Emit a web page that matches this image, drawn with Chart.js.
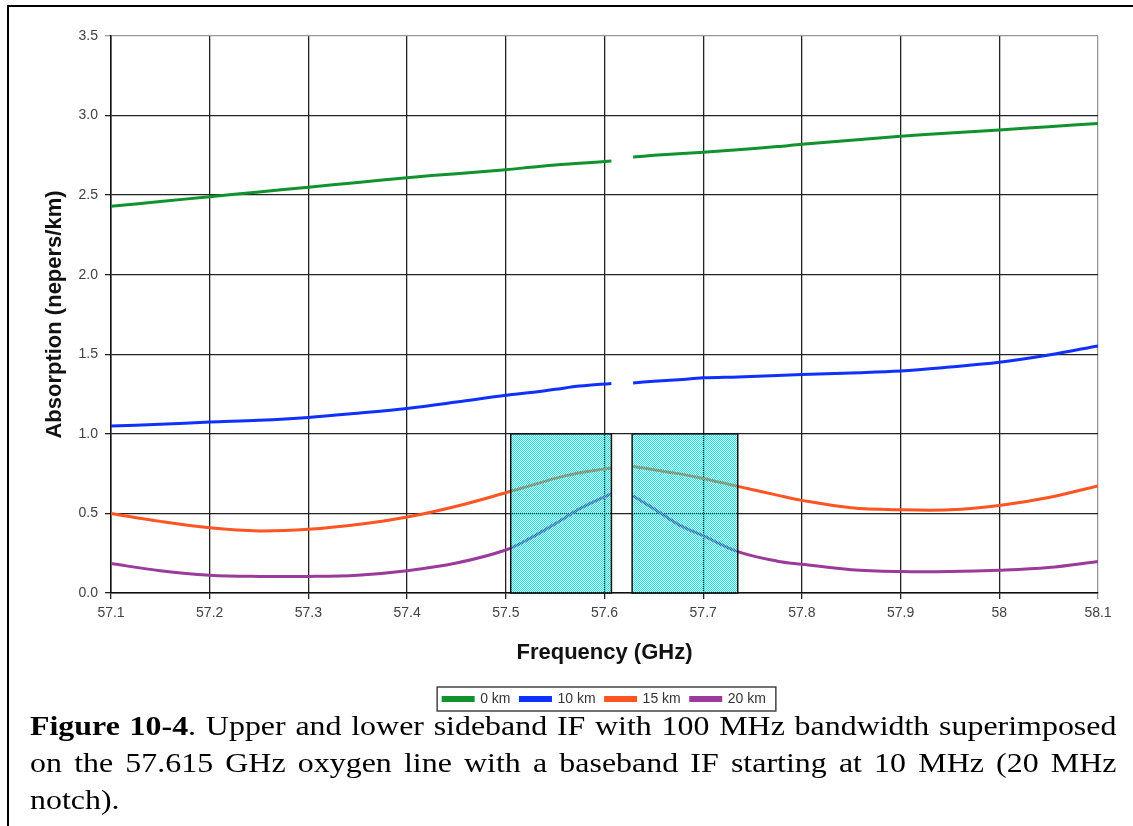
<!DOCTYPE html>
<html>
<head>
<meta charset="utf-8">
<script src="https://cdn.jsdelivr.net/npm/chart.js@4"></script>
<style>
  html, body { margin: 0; padding: 0; background: #fff; overflow: hidden; }
  body { width: 1133px; height: 826px; position: relative; }
  #frame { position: absolute; left: 7px; top: 5px; width: 1200px; height: 900px; border: 2px solid #000; }
  #wrap { position: absolute; left: 0; top: 0; width: 1133px; height: 716px; }
  #caption {
    position: absolute; left: 30px; top: 707px; width: 953px;
    font-family: "Liberation Serif", "Times New Roman", serif; font-size: 28px; line-height: 37px;
    text-align: justify; color: #000;
    transform: scaleX(1.14); transform-origin: 0 0;
  }
</style>
</head>
<body>
<div id="frame"></div>
<div id="wrap"><canvas id="chartAbsorption"></canvas></div>
<div id="caption"><b>Figure 10-4</b>. Upper and lower sideband IF with 100 MHz bandwidth superimposed on the 57.615 GHz oxygen line with a baseband IF starting at 10 MHz (20 MHz notch).</div>
<script>
/* Datos: absorcion vs frecuencia, banda inferior y superior */
const freqLower = [57.1, 57.15, 57.2, 57.25, 57.3, 57.35, 57.4, 57.45, 57.5, 57.525, 57.55, 57.575, 57.607];
const freqUpper = [57.629, 57.65, 57.675, 57.7, 57.735, 57.775, 57.8, 57.85, 57.9, 57.95, 58.0, 58.05, 58.1];

const km0Lower = [2.43, 2.46, 2.49, 2.52, 2.55, 2.58, 2.61, 2.635, 2.66, 2.675, 2.69, 2.70, 2.715];
const km0Upper = [2.74, 2.75, 2.76, 2.77, 2.785, 2.805, 2.82, 2.845, 2.87, 2.89, 2.91, 2.93, 2.95];
const km10Lower = [1.05, 1.06, 1.074, 1.085, 1.103, 1.13, 1.16, 1.20, 1.243, 1.26, 1.28, 1.30, 1.317];
const km10Upper = [1.32, 1.33, 1.34, 1.352, 1.358, 1.366, 1.373, 1.383, 1.395, 1.42, 1.45, 1.495, 1.553];
const km15Lower = [0.50, 0.45, 0.41, 0.39, 0.40, 0.43, 0.477, 0.545, 0.63, 0.675, 0.72, 0.755, 0.786];
const km15Upper = [0.795, 0.775, 0.75, 0.72, 0.67, 0.615, 0.582, 0.536, 0.523, 0.523, 0.55, 0.60, 0.673];
const km20Lower = [0.185, 0.14, 0.112, 0.104, 0.104, 0.112, 0.14, 0.188, 0.27, 0.345, 0.435, 0.53, 0.625];
const km20Upper = [0.61, 0.53, 0.43, 0.36, 0.26, 0.20, 0.181, 0.146, 0.135, 0.135, 0.143, 0.16, 0.198];

const seriesNames = ['0 km', '10 km', '15 km', '20 km'];
const seriesColors = ['#12922e', '#1030ff', '#ff5522', '#9a3a9a'];

/* Bandas IF (rectangulos cian) */
const bandStart = [57.505, 57.628];
const bandEnd = [57.607, 57.735];
const bandTop = 1.0;

const toPoints = (lower, upper) => {
  const pts = [];
  for (let i in freqLower) pts.push({ x: freqLower[i], y: lower[i] });
  pts.push({ x: 57.618, y: null });
  for (let i in freqUpper) pts.push({ x: freqUpper[i], y: upper[i] });
  return pts;
};

const seriesData = [
  toPoints(km0Lower, km0Upper),
  toPoints(km10Lower, km10Upper),
  toPoints(km15Lower, km15Upper),
  toPoints(km20Lower, km20Upper),
];

const makePattern = (ctx) => {
  const c = document.createElement('canvas');
  c.width = 2; c.height = 2;
  const p = c.getContext('2d');
  p.fillStyle = '#00eaea';
  p.fillRect(0, 0, 1, 1);
  p.fillRect(1, 1, 1, 1);
  return ctx.createPattern(c, 'repeat');
};

const bandsPlugin = {
  id: 'bands',
  afterDatasetsDraw(chart) {
    const { ctx, scales } = chart;
    ctx.save();
    const pat = makePattern(ctx);
    for (let i in bandStart) {
      const x1 = scales.x.getPixelForValue(bandStart[i]);
      const x2 = scales.x.getPixelForValue(bandEnd[i]);
      const y1 = scales.y.getPixelForValue(bandTop);
      const y2 = scales.y.getPixelForValue(0);
      ctx.fillStyle = pat;
      ctx.fillRect(x1, y1, x2 - x1, y2 - y1);
      ctx.strokeStyle = '#111';
      ctx.lineWidth = 1.5;
      ctx.strokeRect(x1, y1, x2 - x1, y2 - y1);
    }
    ctx.restore();
  },
};

const legendBoxPlugin = {
  id: 'legendBox',
  afterDraw(chart) {
    const hb = chart.legend.legendHitBoxes;
    if (!hb || !hb.length) return;
    const last = hb[hb.length - 1];
    const ctx = chart.ctx;
    ctx.save();
    ctx.strokeStyle = '#444';
    ctx.lineWidth = 1.5;
    ctx.strokeRect(hb[0].left - 6, hb[0].top - 5, last.left + last.width + 10 - (hb[0].left - 6), hb[0].height + 10);
    ctx.restore();
  },
};

const gridColor = (max) => (c) => (c.tick && c.tick.value === max ? '#999' : '#222');

const ctx = document.getElementById('chartAbsorption').getContext('2d');
const chartAbsorption = new Chart(ctx, {
  type: 'line',
  data: {
    datasets: seriesNames.map((name, i) => ({
      label: name,
      data: seriesData[i],
      borderColor: seriesColors[i],
      backgroundColor: seriesColors[i],
      borderWidth: 3,
      pointRadius: 0,
      spanGaps: false,
      tension: 0.35,
    })),
  },
  options: {
    responsive: true,
    maintainAspectRatio: false,
    animation: false,
    layout: { padding: { top: 36, right: 35, left: 0, bottom: 0 } },
    scales: {
      x: {
        type: 'linear',
        min: 57.1,
        max: 58.1,
        ticks: {
          stepSize: 0.1,
          padding: 6,
          color: '#404048',
          font: { family: 'Liberation Sans, Arial', size: 14 },
          callback: (v) => (Math.round(v * 10) / 10).toString(),
        },
        grid: { color: gridColor(58.1), lineWidth: 1.3, tickLength: 6 },
        border: { color: '#111', width: 1.5 },
        title: {
          display: true,
          text: 'Frequency (GHz)',
          color: '#111',
          font: { family: 'Liberation Sans, Arial', size: 22, weight: 'bold' },
          padding: { top: 0, bottom: 16 },
        },
        afterFit: (scale) => { scale.height = 89; },
      },
      y: {
        min: 0,
        max: 3.5,
        ticks: {
          stepSize: 0.5,
          padding: 7,
          color: '#404048',
          font: { family: 'Liberation Sans, Arial', size: 14 },
          callback: (v) => v.toFixed(1),
        },
        grid: { color: gridColor(3.5), lineWidth: 1.3, tickLength: 6 },
        border: { color: '#111', width: 1.5 },
        title: {
          display: true,
          text: 'Absorption (nepers/km)',
          color: '#111',
          font: { family: 'Liberation Sans, Arial', size: 22, weight: 'bold' },
          padding: { top: 42, bottom: 0 },
        },
        afterFit: (scale) => { scale.width = 111; },
      },
    },
    plugins: {
      tooltip: { enabled: false },
      legend: {
        position: 'bottom',
        fullSize: false,
        labels: {
          boxWidth: 30,
          boxHeight: 3,
          padding: 10,
          color: '#333',
          font: { family: 'Liberation Sans, Arial', size: 14 },
        },
      },
    },
  },
  plugins: [bandsPlugin, legendBoxPlugin],
});
</script>
</body>
</html>
